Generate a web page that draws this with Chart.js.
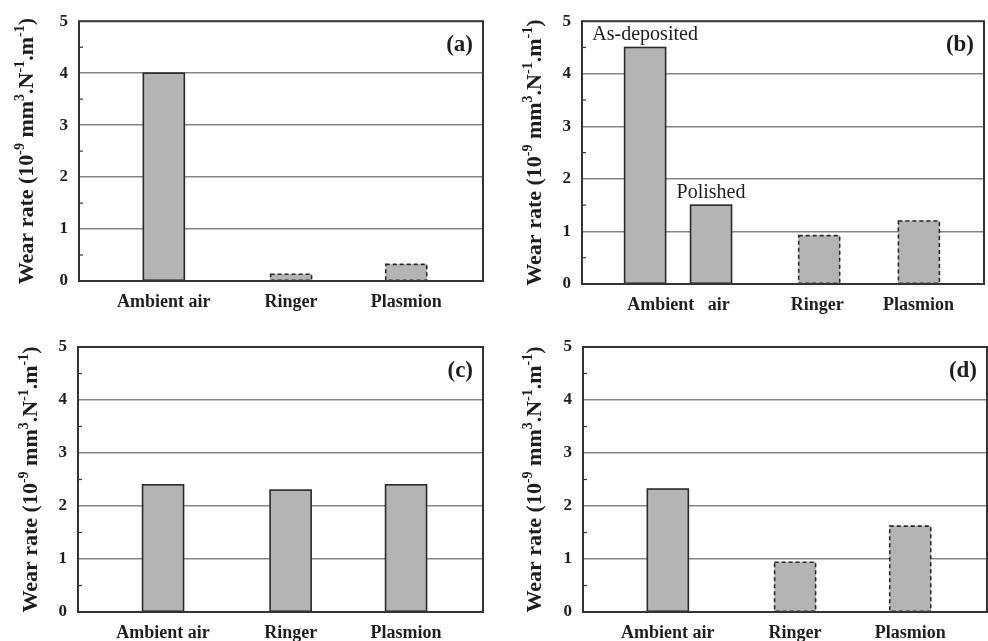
<!DOCTYPE html>
<html>
<head>
<meta charset="utf-8">
<script src="https://cdn.jsdelivr.net/npm/chart.js@4.4.1/dist/chart.umd.min.js"></script>
<style>
  body { margin: 0; background: #fff; width: 988px; height: 641px; position: relative; overflow: hidden; }
  canvas { position: absolute; }
</style>
</head>
<body>
<canvas id="ca" width="490" height="318" style="left:0;top:0"></canvas>
<canvas id="cb" width="494" height="318" style="left:494px;top:0"></canvas>
<canvas id="cc" width="490" height="321" style="left:0;top:320px"></canvas>
<canvas id="cd" width="494" height="321" style="left:494px;top:320px"></canvas>
<script>
// categories and where they sit on the (hidden) 0-10 x scale
const categories = ["Ambient air", "Ringer", "Plasmion"];
const categoriesB = ["Ambient   air", "Ringer", "Plasmion"];
const catPos = [2.1, 5.25, 8.1];
const catPosB = [2.4, 5.85, 8.37];
const barPosB = [1.57, 3.21, 5.9, 8.38];

// wear rate, 10^-9 mm3/N/m
const wearA = [4.0, 0.13, 0.32];
const wearB = [4.5, 1.5, 0.92, 1.2];
const wearC = [2.4, 2.3, 2.4];
const wearD = [2.32, 0.94, 1.62];

// dashed outline = estimated bars
const dashA = [false, true, true];
const dashB = [false, false, true, true];
const dashC = [false, false, false];
const dashD = [false, true, true];

const notesB = ["As-deposited", "Polished", "", ""];
const yTicks = [0, 1, 2, 3, 4, 5];

const SERIF = '"Liberation Serif", "Times New Roman", serif';
const INK = "#1e1e1e";

// outlines (solid / dashed), frame, minor ticks, panel tag, notes, y title
const panelDeco = {
  id: "panelDeco",
  afterDatasetsDraw(chart, args, opts) {
    const ctx = chart.ctx;
    const area = chart.chartArea;
    const y = chart.scales.y;
    const meta = chart.getDatasetMeta(0);

    ctx.save();
    ctx.strokeStyle = "#2b2b2b";
    ctx.lineWidth = 1.6;
    meta.data.forEach((bar, i) => {
      const p = bar.getProps(["x", "y", "base", "width"], true);
      ctx.setLineDash(opts.dashed[i] ? [4, 3] : []);
      ctx.strokeRect(p.x - p.width / 2, p.y, p.width, p.base - p.y);
    });
    ctx.setLineDash([]);

    // frame
    ctx.strokeStyle = "#333";
    ctx.lineWidth = 2;
    ctx.strokeRect(area.left, area.top, area.right - area.left, area.bottom - area.top);

    // inward minor ticks
    ctx.lineWidth = 1.2;
    for (let v = 0.5; v < 5; v += 1) {
      const py = y.getPixelForValue(v);
      ctx.beginPath();
      ctx.moveTo(area.left, py);
      ctx.lineTo(area.left + 4, py);
      ctx.stroke();
    }

    // panel tag
    ctx.fillStyle = INK;
    ctx.font = "bold 23px " + SERIF;
    ctx.textAlign = "right";
    ctx.textBaseline = "middle";
    ctx.fillText(opts.tag, area.right - 10, area.top + 24);

    // notes over bars
    if (opts.notes) {
      ctx.font = "20px " + SERIF;
      ctx.textAlign = "center";
      ctx.textBaseline = "alphabetic";
      meta.data.forEach((bar, i) => {
        if (opts.notes[i]) ctx.fillText(opts.notes[i], bar.x, bar.y - 7);
      });
    }

    // y title with superscripts
    const parts = [["Wear rate (10", 0], ["-9", 1], [" mm", 0], ["3", 1], [".N", 0], ["-1", 1], [".m", 0], ["-1", 1], [")", 0]];
    const big = "bold 22px " + SERIF, small = "bold 14px " + SERIF;
    let total = 0;
    parts.forEach(([t, s]) => { ctx.font = s ? small : big; total += ctx.measureText(t).width; });
    ctx.translate(opts.titleX, (area.top + area.bottom) / 2);
    ctx.rotate(-Math.PI / 2);
    ctx.textAlign = "left";
    ctx.textBaseline = "middle";
    let x = -total / 2;
    parts.forEach(([t, s]) => {
      ctx.font = s ? small : big;
      ctx.fillText(t, x, s ? -7 : 0);
      x += ctx.measureText(t).width;
    });
    ctx.restore();
  }
};

function makePanel(id, barPos, values, labels, labelPos, dashed, tag, layout, notes) {
  return new Chart(document.getElementById(id), {
    type: "bar",
    data: {
      datasets: [{
        data: values.map((v, i) => ({ x: barPos[i], y: v })),
        backgroundColor: "#b4b4b4",
        borderWidth: 0,
        barThickness: 41
      }]
    },
    options: {
      responsive: false,
      animation: false,
      events: [],
      layout: { padding: { left: 0, right: layout.right, top: layout.top, bottom: 0 } },
      plugins: {
        legend: { display: false },
        tooltip: { enabled: false },
        panelDeco: { dashed: dashed, tag: tag, notes: notes, titleX: layout.titleX }
      },
      scales: {
        x: {
          type: "linear",
          min: 0,
          max: 10,
          offset: false,
          grid: { display: false, offset: false },
          border: { display: false },
          afterBuildTicks: (axis) => { axis.ticks = labelPos.map((v) => ({ value: v })); },
          afterFit: (axis) => { axis.height = layout.xh; },
          ticks: {
            autoSkip: false,
            maxRotation: 0,
            padding: 3,
            color: INK,
            font: { family: SERIF, size: 18, weight: "bold" },
            callback: (v, i) => labels[i]
          }
        },
        y: {
          min: 0,
          max: 5,
          afterBuildTicks: (axis) => { axis.ticks = yTicks.map((v) => ({ value: v })); },
          afterFit: (axis) => { axis.width = layout.yw; },
          border: { display: false },
          grid: {
            drawTicks: false,
            lineWidth: 1.5,
            color: (c) => (c.tick && c.tick.value > 0 && c.tick.value < 5 ? "#858585" : "rgba(0,0,0,0)")
          },
          ticks: {
            padding: 11,
            color: INK,
            font: { family: SERIF, size: 17, weight: "bold" }
          }
        }
      }
    },
    plugins: [panelDeco]
  });
}

makePanel("ca", catPos, wearA, categories, catPos, dashA, "(a)",
  { yw: 79, right: 7, top: 15, xh: 37, titleX: 27 });
makePanel("cb", barPosB, wearB, categoriesB, catPosB, dashB, "(b)",
  { yw: 88, right: 4, top: 18, xh: 34, titleX: 41 }, notesB);
makePanel("cc", catPos, wearC, categories, catPos, dashC, "(c)",
  { yw: 78, right: 7, top: 27, xh: 29, titleX: 31 });
makePanel("cd", catPos, wearD, categories, catPos, dashD, "(d)",
  { yw: 89, right: 1, top: 27, xh: 29, titleX: 41 });
</script>
</body>
</html>
